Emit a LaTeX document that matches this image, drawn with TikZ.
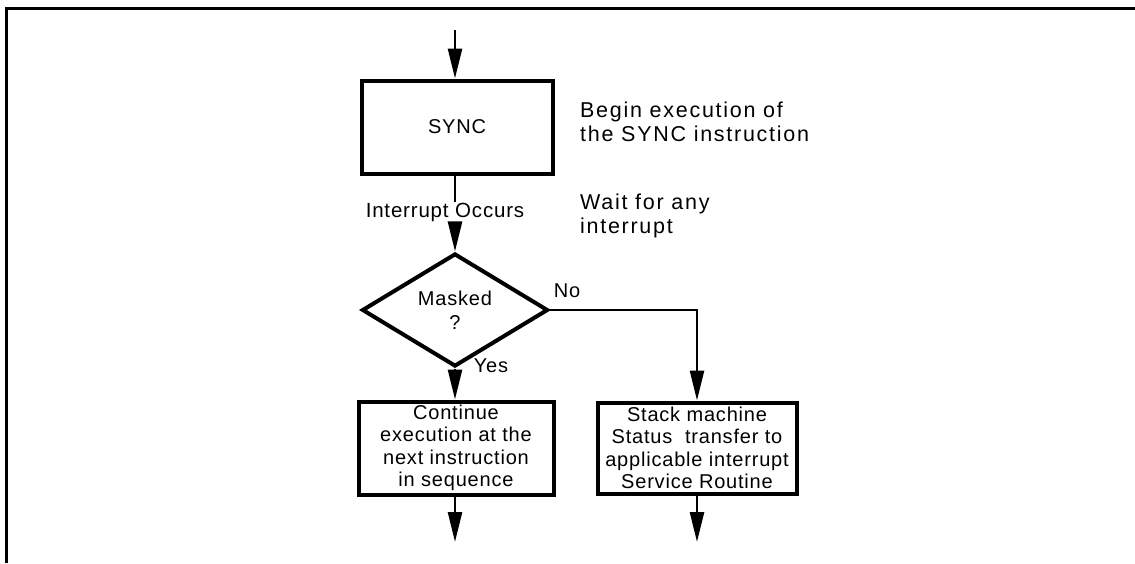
\documentclass[tikz,border=0pt]{standalone}
\usepackage{fontspec}
\setmainfont{Liberation Sans}[LetterSpace=4]
\newfontfamily\notefont{Liberation Sans}[LetterSpace=8]
\usetikzlibrary{arrows.meta,shapes.geometric}
\begin{document}
\begin{tikzpicture}[x=1pt,y=-1pt,
  every node/.style={font=\fontsize{20}{22.5}\selectfont},
  boxst/.style={draw,line width=4pt,inner sep=0pt,align=center},
  conn/.style={line width=2.5pt},
  arr/.style={line width=2.5pt,-{Triangle[length=30pt,width=14pt]}},
  note/.style={align=left,anchor=west,inner sep=0pt,font=\notefont\fontsize{21.5}{24.5}\selectfont}]
\useasboundingbox (0,0) rectangle (1135,563);
% frame
\draw[line width=3pt] (6,563) -- (6,8) -- (1135,8);
% nodes
\node[boxst,minimum width=191pt,minimum height=93pt] (sync) at (457,127) {SYNC};
\node[inner sep=1pt,font=\fontsize{20.5}{22}\selectfont] (int) at (445,212) {Interrupt Occurs};
\node[draw,diamond,line width=4pt,minimum width=186pt,minimum height=92pt,inner sep=0pt,align=center] (dia) at (455,310) {Masked\\[2pt]?};
\node[boxst,minimum width=195pt,minimum height=93pt] (left) at (456,448) {Continue\\execution at the\\next instruction\\in sequence};
\node[boxst,minimum width=199pt,minimum height=91pt] (right) at (697,448) {Stack machine\\Status\ \ transfer to\\applicable interrupt\\Service Routine};
\node[note] (n1) at (580,122) {Begin execution of\\the SYNC instruction};
\node[note] (n2) at (580,216) {Wait for any\\interrupt};
\node (no) at (567,291) {No};
\node (yes) at (491,366) {Yes};
\coordinate (start) at (455,30);
\coordinate (end1) at (456,542);
\coordinate (end2) at (697,542);
% connectors
\draw[arr] (start) -- (sync.north -| start);
\draw[conn] (sync.south -| start) -- (start |- int.north);
\draw[arr] (start |- int.south) -- (dia.north);
\draw[arr] (dia.east) -| (right.north);
\draw[arr] (dia.south) -- (left.north -| dia.south);
\draw[arr] (left.south -| dia.south) -- (end1 -| dia.south);
\draw[arr] (right.south) -- (end2);
\end{tikzpicture}
\end{document}
